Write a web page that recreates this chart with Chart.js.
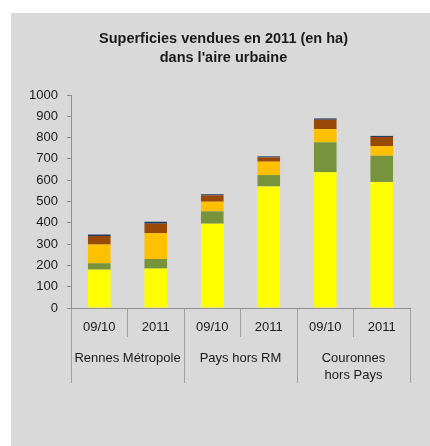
<!DOCTYPE html>
<html>
<head>
<meta charset="utf-8">
<script src="https://cdn.jsdelivr.net/npm/chart.js@4"></script>
<style>
  html, body { margin: 0; background: #fff; }
  #box { position: absolute; left: 11px; top: 13px; width: 419px; height: 433px; background: #d9d9d9; }
</style>
</head>
<body>
<div id="box"><canvas id="chart" width="419" height="433"></canvas></div>
<script>
var periods = ['09/10', '2011', '09/10', '2011', '09/10', '2011'];
var groups = ['Rennes Métropole', 'Pays hors RM', ['Couronnes', 'hors Pays']];
var yTicks = [0, 100, 200, 300, 400, 500, 600, 700, 800, 900, 1000];

// stacked from the bottom up
var serie1 = [180, 185, 396, 571, 637, 592];
var serie2 = [30, 45, 58, 53, 141, 123];
var serie3 = [88, 121, 45, 63, 62, 45];
var serie4 = [40, 45, 30, 20, 44, 43];
var serie5 = [7, 9, 5, 5, 6, 5];

var font = "'Liberation Sans', Arial, sans-serif";
var txt = '#1a1a1a';
var lineCol = '#8f8f8f';

function ds(label, data, color) {
  return {
    label: label,
    data: data,
    backgroundColor: color,
    borderWidth: 0,
    categoryPercentage: 1,
    barPercentage: 0.4
  };
}

var ctx = document.getElementById('chart');
var myChart = new Chart(ctx, {
  type: 'bar',
  data: {
    labels: periods,
    datasets: [
      ds('Série 1', serie1, '#ffff00'),
      ds('Série 2', serie2, '#77933c'),
      ds('Série 3', serie3, '#ffc000'),
      ds('Série 4', serie4, '#984807'),
      ds('Série 5', serie5, '#1f3864')
    ]
  },
  options: {
    responsive: false,
    animation: false,
    layout: { padding: { left: 6, right: 0, top: 0, bottom: 0 } },
    plugins: {
      legend: { display: false },
      tooltip: { enabled: false },
      title: {
        display: true,
        text: ['Superficies vendues en 2011 (en ha)', "dans l'aire urbaine"],
        color: txt,
        font: { family: font, size: 14.5, weight: 'bold', lineHeight: '19px' },
        padding: { top: 16, bottom: 28 }
      }
    },
    scales: {
      y: {
        stacked: true,
        min: 0,
        max: 1000,
        afterBuildTicks: function(s) { s.ticks = yTicks.map(function(v) { return { value: v }; }); },
        afterFit: function(s) { s.width = 54; },
        border: { color: lineCol },
        grid: { drawOnChartArea: false, drawTicks: true, tickLength: 4, color: lineCol },
        ticks: {
          color: txt, padding: 9, font: { family: font, size: 13 },
          callback: function(v) { return String(v); }
        }
      },
      y2: {
        type: 'linear',
        position: 'right',
        display: true,
        afterFit: function(s) { s.width = 20; },
        border: { display: false },
        grid: { display: false },
        ticks: { display: false }
      },
      x: {
        stacked: true,
        offset: true,
        afterFit: function(s) { s.height = 25; },
        border: { color: lineCol },
        grid: { offset: true, drawOnChartArea: false, tickLength: 29, color: '#a0a0a0' },
        ticks: { color: txt, padding: -17, autoSkip: false, maxRotation: 0, font: { family: font, size: 13 } }
      },
      x2: {
        type: 'category',
        position: 'bottom',
        labels: groups,
        offset: true,
        afterFit: function(s) { s.height = 113; },
        border: { display: false },
        grid: { offset: true, drawOnChartArea: false, tickLength: 50, color: '#a0a0a0' },
        ticks: { color: txt, padding: -33, autoSkip: false, maxRotation: 0, font: { family: font, size: 13, lineHeight: '17px' } }
      }
    }
  }
});
</script>
</body>
</html>
